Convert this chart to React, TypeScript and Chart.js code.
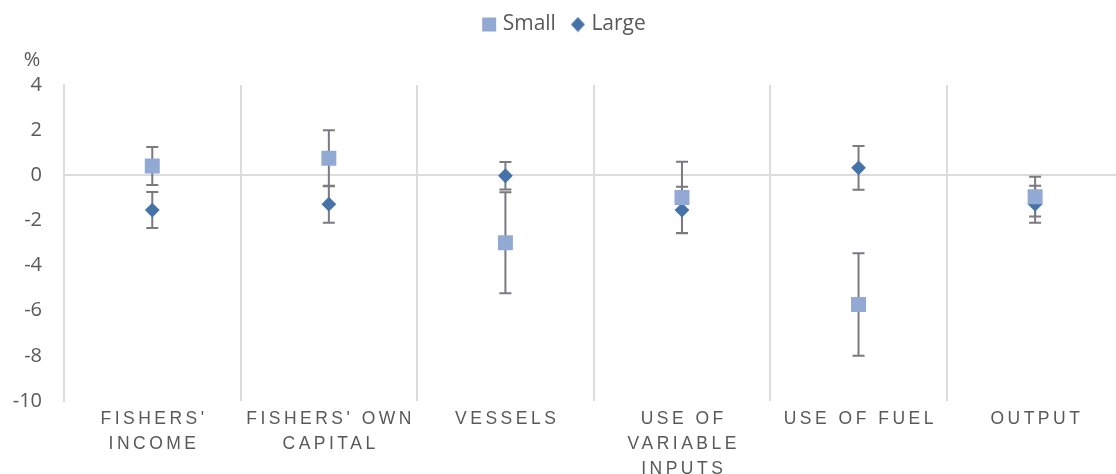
import { useEffect, useRef } from "react";
import { Chart, registerables, layouts } from "chart.js";

Chart.register(...registerables);

// Category labels, one array of lines per category
const categories: string[][] = [
  ["FISHERS'", "INCOME"],
  ["FISHERS' OWN", "CAPITAL"],
  ["VESSELS"],
  ["USE OF", "VARIABLE", "INPUTS"],
  ["USE OF FUEL"],
  ["OUTPUT"],
];

const seriesNames = ["Small", "Large"];

// Point estimates (%) and half-widths of the error bars
const smallValues = [0.41, 0.75, -2.99, -0.98, -5.72, -0.95];
const smallErrors = [0.84, 1.24, 2.24, 1.58, 2.27, 0.88];
const largeValues = [-1.54, -1.28, -0.02, -1.54, 0.33, -1.28];
const largeErrors = [0.8, 0.82, 0.61, 1.03, 0.97, 0.82];

const yTicks = [4, 2, 0, -2, -4, -6, -8, -10];
const unitLabel = "%";

const SMALL_COLOR = "#92a9d3";
const LARGE_COLOR = "#4672aa";
const TEXT_COLOR = "#595959";
const GRID_COLOR = "#dcdcdc";
const ERROR_COLOR = "#7a7a80";
const FONT = '"Open Sans", sans-serif';

function makeIcon(kind: "square" | "diamond", color: string) {
  const c = document.createElement("canvas");
  c.width = 16;
  c.height = 16;
  const g = c.getContext("2d")!;
  g.fillStyle = color;
  if (kind === "square") {
    g.fillRect(1, 1, 14, 14);
  } else {
    g.beginPath();
    g.moveTo(8, 0.5);
    g.lineTo(15, 8);
    g.lineTo(8, 15.5);
    g.lineTo(1, 8);
    g.closePath();
    g.fill();
  }
  return c;
}

// Vertical error bars, drawn beneath the markers
const errorBars = {
  id: "errorBars",
  beforeDatasetsDraw(chart: any) {
    const y = chart.scales.y;
    const ctx = chart.ctx;
    const sets: [number[], number[]][] = [
      [smallValues, smallErrors],
      [largeValues, largeErrors],
    ];
    ctx.save();
    ctx.strokeStyle = ERROR_COLOR;
    ctx.lineWidth = 2;
    sets.forEach(([vals, errs], di) => {
      const meta = chart.getDatasetMeta(di);
      meta.data.forEach((pt: any, j: number) => {
        const x = pt.x;
        const top = y.getPixelForValue(vals[j] + errs[j]);
        const bot = y.getPixelForValue(vals[j] - errs[j]);
        ctx.beginPath();
        ctx.moveTo(x, top);
        ctx.lineTo(x, bot);
        ctx.moveTo(x - 6, top);
        ctx.lineTo(x + 6, top);
        ctx.moveTo(x - 6, bot);
        ctx.lineTo(x + 6, bot);
        ctx.stroke();
      });
    });
    ctx.restore();
  },
};

// Spaced-out category labels under the plot
const categoryLabels = {
  id: "categoryLabels",
  afterDraw(chart: any) {
    const xs = chart.scales.x;
    const ctx = chart.ctx;
    const spacing = 3.5;
    ctx.save();
    ctx.font = '17.5px "Liberation Sans", Arial, sans-serif';
    ctx.fillStyle = TEXT_COLOR;
    ctx.textAlign = "center";
    ctx.textBaseline = "middle";
    (ctx as any).letterSpacing = spacing + "px";
    categories.forEach((lines, i) => {
      const x = xs.getPixelForValue(i) + spacing / 2;
      lines.forEach((line, k) => {
        ctx.fillText(line, x, chart.chartArea.bottom + 18 + k * 25);
      });
    });
    ctx.restore();
  },
};

// Layout box holding the unit label between the legend and the plot
const unitBox = {
  id: "unitBox",
  beforeInit(chart: any) {
    const box: any = {
      options: { stack: undefined, stackWeight: 1 },
      position: "top",
      weight: 500,
      fullSize: true,
      top: 0,
      left: 0,
      right: 0,
      bottom: 0,
      width: 0,
      height: 0,
      isHorizontal: () => true,
      update(maxWidth: number) {
        box.width = maxWidth;
        box.height = 40;
      },
      draw() {
        const ctx = chart.ctx;
        ctx.save();
        ctx.font = `20px ${FONT}`;
        ctx.fillStyle = TEXT_COLOR;
        ctx.textAlign = "center";
        ctx.textBaseline = "middle";
        ctx.fillText(unitLabel, 32, box.top + 15);
        ctx.restore();
      },
    };
    layouts.addBox(chart, box);
  },
};

export default function App() {
  const ref = useRef<HTMLCanvasElement | null>(null);

  useEffect(() => {
    if (!ref.current) return;
    const icons = [makeIcon("square", SMALL_COLOR), makeIcon("diamond", LARGE_COLOR)];
    const chart = new Chart(ref.current, {
      type: "line",
      data: {
        labels: categories,
        datasets: [
          {
            label: seriesNames[0],
            data: smallValues,
            showLine: false,
            pointStyle: "rect",
            pointRadius: 10.6,
            pointHoverRadius: 10.6,
            backgroundColor: SMALL_COLOR,
            borderColor: SMALL_COLOR,
            borderWidth: 0,
          },
          {
            label: seriesNames[1],
            data: largeValues,
            showLine: false,
            pointStyle: "rectRot",
            pointRadius: 7.4,
            pointHoverRadius: 7.4,
            backgroundColor: LARGE_COLOR,
            borderColor: LARGE_COLOR,
            borderWidth: 0,
          },
        ],
      },
      options: {
        responsive: false,
        animation: false,
        devicePixelRatio: 1,
        layout: { padding: { left: 0, right: 2, top: -5, bottom: 0 } },
        plugins: {
          tooltip: { enabled: false },
          legend: {
            position: "top",
            labels: {
              usePointStyle: true,
              pointStyleWidth: 6,
              padding: 19,
              color: TEXT_COLOR,
              font: { family: FONT, size: 21 },
              generateLabels: (c: any) => {
                const items = Chart.defaults.plugins.legend.labels.generateLabels(c);
                items.forEach((it: any, i: number) => {
                  it.pointStyle = icons[i];
                });
                return items;
              },
            },
          },
        },
        scales: {
          x: {
            type: "category",
            offset: true,
            grid: {
              offset: true,
              color: GRID_COLOR,
              lineWidth: 2,
              drawTicks: false,
            },
            border: { display: false },
            ticks: { display: false },
            afterFit: (s: any) => {
              s.height = 73;
            },
          },
          y: {
            min: Math.min(...yTicks),
            max: Math.max(...yTicks),
            ticks: {
              stepSize: 2,
              padding: 22,
              color: TEXT_COLOR,
              font: { family: FONT, size: 20 },
            },
            grid: {
              drawTicks: false,
              lineWidth: 2,
              color: (c: any) => (c.tick && c.tick.value === 0 ? GRID_COLOR : "rgba(0,0,0,0)"),
            },
            border: { display: true, color: GRID_COLOR, width: 2 },
            afterFit: (s: any) => {
              s.width = 64;
            },
          },
        },
      },
      plugins: [errorBars, categoryLabels, unitBox],
    });
    return () => chart.destroy();
  }, []);

  return (
    <div
      style={{
        position: "fixed",
        left: 0,
        top: 0,
        width: 1116,
        height: 474,
        overflow: "hidden",
        background: "#fff",
      }}
    >
      <canvas ref={ref} width={1134} height={474} style={{ display: "block" }} />
    </div>
  );
}
